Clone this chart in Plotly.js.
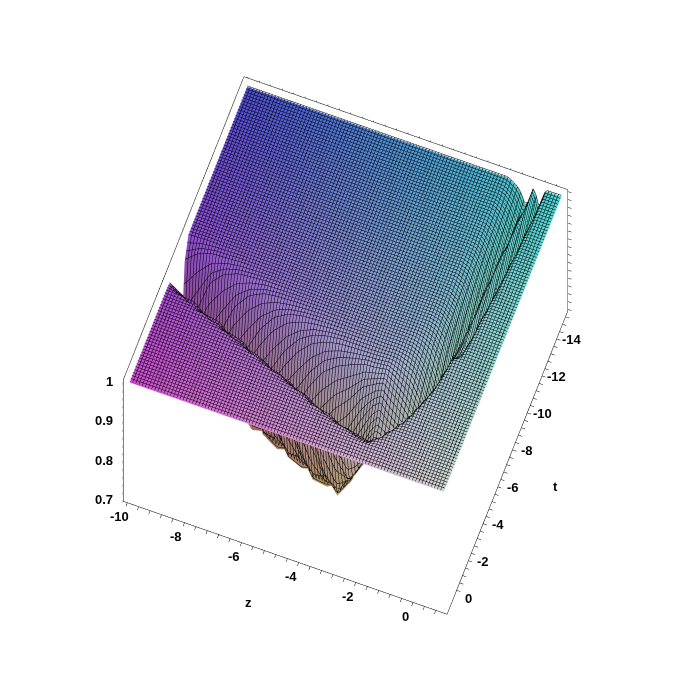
<!DOCTYPE html>
<html>
<head>
<meta charset="utf-8">
<script src="https://cdn.plot.ly/plotly-3.0.1.min.js"></script>
<style>html,body{margin:0;background:#fff}#plot{width:691px;height:691px}</style>
</head>
<body>
<div id="plot"></div>
<script>
// grid, columns are z (the x axis of the scene), rows are t
const zCols = [-10,-9.5,-9,-8.5,-8,-7.5,-7,-6.5,-6,-5.5,-5,-4.5,-4,-3.5,-3,
  -2.75,-2.5,-2.25,-2,-1.75,-1.5,-1.25,-1,
  -.9,-.8,-.7,-.6,-.5,-.4,-.3,-.2,-.1,0,.1,.2,.3,.4,.5,.6,.8,1];
const tRows = [1,.5,0,-.5,-1,-1.5,-2,-2.5,-3,-3.5,-4,-4.5,-5,-5.5,-6,-6.5,-7,-7.5,-8,-8.5,-9,-9.5,-10,-10.5,-11,-11.5,-12,-12.5,-13,-13.5,-14,-14.5,-15];
const heights = [
[.99,.99,.99,.99,.99,.99,.99,.99,.99,.99,.99,.99,.99,.99,.99, .99,.99,.99,.99,.99,.99,.99,.99, .99,.99,.99,.99,.99,.99,.99,.99,.99,.99,.99,.99,.99,.99,.99,.99,.99,.99],
[.99,.99,.99,.99,.99,.99,.99,.99,.99,.99,.99,.99,.99,.99,.99, .99,.99,.99,.99,.99,.99,.99,.99, .99,.99,.99,.99,.99,.99,.99,.99,.99,.99,.99,.99,.99,.99,.99,.99,.99,.99],
[.99,.99,.99,.99,.99,.99,.99,.99,.99,.99,.99,.99,.99,.99,.99, .99,.99,.99,.99,.99,.99,.99,.99, .99,.99,.99,.99,.99,.99,.99,.99,.99,.99,.99,.99,.99,.99,.99,.99,.99,.99],
[.99,.99,.99,.99,.99,.99,.99,.99,.99,.99,.99,.99,.99,.99,.987, .986,.98,.975,.97,.985,.99,.99,.99, .99,.99,.99,.99,.99,.99,.99,.99,.99,.99,.99,.99,.99,.99,.99,.99,.99,.99],
[.99,.99,.99,.99,.99,.99,.99,.99,.99,.99,.99,.989,.988,.98,.95, .93,.92,.905,.90,.955,.985,.99,.99, .99,.99,.99,.99,.99,.99,.99,.99,.99,.99,.99,.99,.99,.99,.99,.99,.99,.99],
[.99,.99,.99,.99,.99,.99,.99,.99,.99,.99,.989,.985,.953,.86,.80, .82,.85,.875,.885,.90,.955,.985,.99, .99,.99,.99,.99,.99,.99,.99,.99,.99,.99,.99,.99,.99,.99,.99,.99,.99,.99],
[.99,.99,.99,.99,.99,.99,.99,.99,.99,.986,.965,.885,.775,.725,.775, .815,.855,.885,.885,.885,.90,.96,.988, .99,.99,.99,.99,.99,.99,.99,.99,.99,.99,.99,.99,.99,.99,.99,.99,.99,.99],
[.99,.99,.99,.99,.99,.99,.99,.987,.97,.905,.79,.718,.712,.73,.80, .845,.885,.91,.90,.89,.885,.91,.965, .985,.99,.99,.99,.99,.99,.99,.99,.99,.99,.99,.99,.99,.99,.99,.99,.99,.99],
[.99,.99,.99,.99,.99,.987,.975,.925,.81,.727,.71,.72,.755,.80,.875, .905,.93,.945,.925,.91,.895,.885,.93, .96,.98,.99,.99,.99,.99,.99,.99,.99,.99,.99,.99,.99,.99,.99,.99,.99,.99],
[.99,.99,.99,.988,.98,.94,.835,.735,.71,.72,.76,.81,.865,.90,.945, .955,.965,.972,.955,.94,.92,.895,.89, .915,.95,.975,.99,.99,.99,.99,.99,.99,.99,.99,.99,.99,.99,.99,.99,.99,.99],
[.99,.988,.983,.948,.855,.755,.71,.718,.755,.81,.88,.93,.955,.97,.98, .98,.982,.985,.975,.96,.945,.915,.885, .885,.90,.94,.975,.988,.99,.99,.99,.99,.99,.99,.99,.99,.99,.99,.99,.99,.99],
[.985,.96,.875,.765,.714,.715,.755,.82,.89,.94,.968,.98,.985,.985,.985, .986,.987,.988,.985,.975,.965,.935,.89, .88,.875,.89,.96,.985,.99,.99,.99,.99,.99,.99,.99,.99,.99,.99,.99,.99,.99],
[.895,.78,.717,.715,.755,.825,.90,.95,.975,.984,.987,.988,.989,.989,.989, .988,.988,.989,.988,.985,.975,.95,.90, .885,.875,.875,.93,.975,.985,.99,.99,.99,.99,.99,.99,.99,.99,.99,.99,.99,.99],
[.72,.712,.755,.83,.915,.96,.98,.986,.988,.989,.99,.99,.99,.99,.99, .99,.99,.99,.99,.988,.98,.96,.92, .895,.88,.875,.90,.96,.985,.988,.99,.99,.99,.99,.99,.99,.99,.99,.99,.99,.99],
[.75,.835,.93,.968,.983,.987,.99,.99,.99,.99,.99,.99,.99,.99,.99, .99,.99,.99,.99,.99,.985,.975,.945, .92,.89,.875,.875,.94,.975,.965,.975,.985,.99,.99,.99,.99,.99,.99,.99,.99,.99],
[.945,.975,.986,.988,.99,.99,.99,.99,.99,.99,.99,.99,.99,.99,.99, .99,.99,.99,.99,.99,.988,.98,.955, .935,.905,.875,.865,.92,.97,.955,.96,.98,.988,.99,.99,.99,.99,.99,.99,.99,.99],
[.988,.99,.99,.99,.99,.99,.99,.99,.99,.99,.99,.99,.99,.99,.99, .99,.99,.99,.99,.99,.99,.985,.965, .945,.92,.89,.87,.90,.965,.95,.945,.97,.985,.99,.99,.99,.99,.99,.99,.99,.99],
[.99,.99,.99,.99,.99,.99,.99,.99,.99,.99,.99,.99,.99,.99,.99, .99,.99,.99,.99,.99,.99,.986,.968, .95,.925,.895,.875,.89,.96,.96,.94,.96,.982,.988,.99,.99,.99,.99,.99,.99,.99],
[.99,.99,.99,.99,.99,.99,.99,.99,.99,.99,.99,.99,.99,.99,.99, .99,.99,.99,.99,.99,.99,.987,.972, .955,.93,.90,.885,.89,.955,.965,.935,.95,.98,.988,.99,.99,.99,.99,.99,.99,.99],
[.99,.99,.99,.99,.99,.99,.99,.99,.99,.99,.99,.99,.99,.99,.99, .99,.99,.99,.99,.99,.99,.988,.975, .96,.94,.91,.89,.885,.94,.97,.945,.94,.97,.985,.99,.99,.99,.99,.99,.99,.99],
[.99,.99,.99,.99,.99,.99,.99,.99,.99,.99,.99,.99,.99,.99,.99, .99,.99,.99,.99,.99,.99,.989,.978, .965,.945,.92,.90,.895,.925,.972,.955,.93,.96,.982,.988,.99,.99,.99,.99,.99,.99],
[.99,.99,.99,.99,.99,.99,.99,.99,.99,.99,.99,.99,.99,.99,.99, .99,.99,.99,.99,.99,.99,.99,.98, .968,.95,.93,.905,.885,.92,.975,.96,.935,.945,.975,.985,.99,.99,.99,.99,.99,.99],
[.99,.99,.99,.99,.99,.99,.99,.99,.99,.99,.99,.99,.99,.99,.99, .99,.99,.99,.99,.99,.99,.99,.982, .972,.958,.94,.915,.90,.905,.965,.97,.94,.935,.97,.985,.99,.99,.99,.99,.99,.99],
[.99,.99,.99,.99,.99,.99,.99,.99,.99,.99,.99,.99,.99,.99,.99, .99,.99,.99,.99,.99,.99,.99,.984, .975,.962,.945,.925,.90,.895,.955,.975,.95,.93,.96,.98,.988,.99,.99,.99,.99,.99],
[.99,.99,.99,.99,.99,.99,.99,.99,.99,.99,.99,.99,.99,.99,.99, .99,.99,.99,.99,.99,.99,.99,.986, .978,.967,.952,.935,.91,.91,.945,.978,.96,.935,.945,.978,.987,.99,.99,.99,.99,.99],
[.99,.99,.99,.99,.99,.99,.99,.99,.99,.99,.99,.99,.99,.99,.99, .99,.99,.99,.99,.99,.99,.99,.987, .98,.97,.958,.94,.92,.905,.935,.975,.97,.94,.935,.97,.985,.99,.99,.99,.99,.99],
[.99,.99,.99,.99,.99,.99,.99,.99,.99,.99,.99,.99,.99,.99,.99, .99,.99,.99,.99,.99,.99,.99,.988, .982,.974,.963,.948,.93,.915,.92,.965,.975,.95,.935,.96,.983,.99,.99,.99,.99,.99],
[.99,.99,.99,.99,.99,.99,.99,.99,.99,.99,.99,.99,.99,.99,.99, .99,.99,.99,.99,.99,.99,.99,.988, .984,.977,.968,.955,.94,.92,.915,.955,.98,.96,.935,.95,.98,.988,.99,.99,.99,.99],
[.99,.99,.99,.99,.99,.99,.99,.99,.99,.99,.99,.99,.99,.99,.99, .99,.99,.99,.99,.99,.99,.99,.99, .985,.98,.972,.96,.945,.93,.925,.945,.98,.965,.94,.945,.975,.987,.99,.99,.99,.99],
[.99,.99,.99,.99,.99,.99,.99,.99,.99,.99,.99,.99,.99,.99,.99, .99,.99,.99,.99,.99,.99,.99,.99, .987,.982,.975,.965,.952,.935,.925,.935,.975,.975,.945,.94,.97,.985,.99,.99,.99,.99],
[.99,.99,.99,.99,.99,.99,.99,.99,.99,.99,.99,.99,.99,.99,.99, .99,.99,.99,.99,.99,.99,.99,.99, .988,.985,.978,.97,.958,.943,.93,.935,.965,.98,.955,.94,.96,.985,.99,.99,.99,.99],
[.99,.99,.99,.99,.99,.99,.99,.99,.99,.99,.99,.99,.99,.99,.99, .99,.99,.99,.99,.99,.99,.99,.99, .989,.986,.98,.974,.965,.95,.935,.935,.955,.982,.965,.94,.955,.983,.99,.99,.99,.99],
[.99,.99,.99,.99,.99,.99,.99,.99,.99,.99,.99,.99,.99,.99,.99, .99,.99,.99,.99,.99,.99,.99,.99, .99,.987,.982,.977,.97,.958,.94,.94,.955,.983,.97,.945,.95,.982,.99,.99,.99,.99]
];
const zTickVals = [-10,-9.6,-9.2,-8.8,-8.4,-8,-7.6,-7.2,-6.8,-6.4,-6,-5.6,-5.2,-4.8,-4.4,-4,-3.6,-3.2,-2.8,-2.4,-2,-1.6,-1.2,-.8,-.4,0,.4,.8];
const tTickVals = [0,-.4,-.8,-1.2,-1.6,-2,-2.4,-2.8,-3.2,-3.6,-4,-4.4,-4.8,-5.2,-5.6,-6,-6.4,-6.8,-7.2,-7.6,-8,-8.4,-8.8,-9.2,-9.6,-10,-10.4,-10.8,-11.2,-11.6,-12,-12.4,-12.8,-13.2,-13.6,-14,-14.4,-14.8];
const hTickVals = [.7,.72,.74,.76,.78,.8,.82,.84,.86,.88,.9,.92,.94,.96,.98,1];
const zLabels = [-10,-8,-6,-4,-2,0];
const tLabels = [0,-2,-4,-6,-8,-10,-12,-14];
const hLabels = [.7,.8,.9,1];

const zRange = [-10.14, 1.19];
const tRange = [1.3, -15.1];
const hRange = [.695, 1.005];

// flatten the grid into a mesh so every vertex can have its own rgb
// skin sits a hair under the wires so the lines don't fight it
const vx = [], vy = [], vz = [], vc = [], fi = [], fj = [], fk = [];
tRows.forEach((t, r) => {
    zCols.forEach((x, c) => {
        const h = heights[r][c];
        const red = 75 + 135 * (t + 15) / 16;
        const green = 75 + 140 * (x + 10) / 11;
        const blue = 95 + 115 * (h - .7) / .29;
        vx.push(x); vy.push(t); vz.push(h - .0025);
        vc.push(`rgb(${red | 0},${green | 0},${blue | 0})`);
    });
});
const nc = zCols.length;
for (let r = 0; r < tRows.length - 1; r++) {
    for (let c = 0; c < nc - 1; c++) {
        const a = r * nc + c;
        fi.push(a, a); fj.push(a + 1, a + nc + 1); fk.push(a + nc + 1, a + nc);
    }
}

const skin = {
    type: 'mesh3d', x: vx, y: vy, z: vz, i: fi, j: fj, k: fk, vertexcolor: vc,
    lighting: {ambient: .95, diffuse: .2, specular: 0, roughness: 1, fresnel: 0},
    lightposition: {x: 200, y: -400, z: 1000},
    hoverinfo: 'skip', showscale: false
};
const wires = {
    type: 'surface', x: zCols, y: tRows, z: heights, hidesurface: true, showscale: false,
    hoverinfo: 'skip',
    contours: {
        x: {show: true, start: -10, end: 1, size: .11, color: '#000', width: 1},
        y: {show: true, start: -15, end: 1, size: .16, color: '#000', width: 1},
        z: {show: false}
    }
};

function axis(range, vals) {
    return {
        title: {text: ''}, range: range, autorange: false,
        tickmode: 'array', tickvals: vals, showticklabels: false,
        ticks: 'outside', ticklen: 4, tickcolor: '#000', tickwidth: 1,
        showgrid: false, zeroline: false, showbackground: false, showspikes: false,
        showline: true, linecolor: '#000', linewidth: 1, mirror: 'all'
    };
}

// tick labels and titles as scene annotations, gl labels land too far off the axes
const labelFont = {family: 'Liberation Sans', size: 13, color: '#000', weight: 'bold'};
function label(x, y, z, text, dx, dy, anchor) {
    return {x: x, y: y, z: z, text: text, showarrow: false, font: labelFont,
        xanchor: anchor || 'center', yanchor: 'middle', xshift: dx, yshift: dy};
}
const notes = [];
zLabels.forEach(v => notes.push(label(v, tRange[0], hRange[0], String(v), -8, -14)));
tLabels.forEach(v => notes.push(label(zRange[1], v, hRange[0], String(v), 12, -8)));
hLabels.forEach(v => notes.push(label(zRange[0], tRange[0], v, String(v), -8, 0, 'right')));
notes.push(label(-5, tRange[0], hRange[0], 'z', -22, -50));
notes.push(label(zRange[1], -6, hRange[0], 't', 55, -7));

const layout = {
    width: 691, height: 691, margin: {l: 0, r: 0, t: 0, b: 0}, showlegend: false,
    paper_bgcolor: '#fff', hovermode: false,
    scene: {
        domain: {x: [0, 1], y: [0, 1]},
        aspectmode: 'manual', aspectratio: {x: 1, y: 1, z: 1},
        camera: {
            projection: {type: 'orthographic'}, up: {x: 0, y: 0, z: 1}, center: {x: 0, y: 0, z: 0},
            eye: {x: .246, y: -.66, z: 1.872}
        },
        xaxis: axis(zRange, zTickVals),
        yaxis: axis(tRange, tTickVals),
        zaxis: axis(hRange, hTickVals),
        annotations: notes
    }
};
Plotly.newPlot('plot', [skin, wires], layout, {displayModeBar: false});
</script>
</body>
</html>
